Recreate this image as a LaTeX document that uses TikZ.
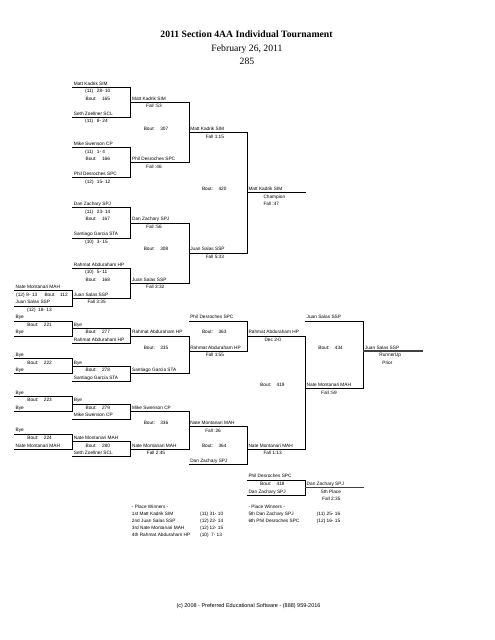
\documentclass[tikz,border=0pt]{standalone}
\usepackage{fontspec}
\setmainfont{Liberation Serif}
\newfontfamily\arialf{Liberation Sans}
\newcommand\colX[1]{(14.5+58.2*(#1))}
\newcommand\rowY[1]{(87.3+7.54*(#1))}
\tikzset{
  bline/.style={line width=0.9pt, line cap=rect, black},
  champ/.style={line width=1.1pt},
  final/.style={line width=1.5pt, black!75},
  lbl/.style={font=\arialf\fontsize{4.75}{5}\selectfont, anchor=base west, inner sep=0pt},
  foot/.style={font=\arialf\fontsize{5.5}{6}\selectfont, anchor=base, inner sep=0pt},
  ttl/.style={anchor=base, inner sep=0pt, font=\fontsize{9.7}{11}\selectfont},
}
% slot: [line style] name, column, row, label
\newcommand\Slot[5][]{%
  \coordinate (#2-l) at ({\colX{#3}},{\rowY{#4}});
  \coordinate (#2-r) at ({\colX{#3}+58.2},{\rowY{#4}});
  \draw[bline,#1] (#2-l) -- (#2-r);
  \node[lbl] (#2-t) at ({\colX{#3}+1},{\rowY{#4}-2.2}) {#5};}
% text under a line: name, column, row, x offset, text
\newcommand\Under[5]{\node[lbl] (#1) at ({\colX{#2}+#4},{\rowY{#3}+5.5}) {#5};}
\newcommand\UnderII[5]{\node[lbl] (#1) at ({\colX{#2}+#4},{\rowY{#3}+12.8}) {#5};}
% record: name, column, row, seed, record
\newcommand\Rec[5]{%
  \node[lbl] (#1-s) at ({\colX{#2}+12.3},{\rowY{#3}+5.5}) {#4};
  \node[lbl] (#1-w) at ({\colX{#2}+24},{\rowY{#3}+5.5}) {#5};}
% bout: name, column, row, number
\newcommand\Bout[4]{%
  \node[lbl] (#1-a) at ({\colX{#2}+12.7},{\rowY{#3}-2.2}) {Bout:};
  \node[lbl] (#1-b) at ({\colX{#2}+29.2},{\rowY{#3}-2.2}) {#4};}
\newcommand\Bracket[2]{\draw[bline] (#1-r) -- (#2-r);}
\begin{document}
\begin{tikzpicture}[x=1pt,y=-1pt]
\useasboundingbox[fill=white] (0,0) rectangle (495,640);

% title
\node[ttl,font=\bfseries\fontsize{9.7}{11}\selectfont] (title) at (246.5,37.5) {2011 Section 4AA Individual Tournament};
\node[ttl] (date) at (247,51.5) {February 26, 2011};
\node[ttl] (num) at (247,64.3) {285};

% ---------- championship bracket ----------
\Slot{mk1}{1}{0}{Matt Kadrik SIM} \Rec{mk1}{1}{0}{(11)}{28- 10}
\Slot{sz1}{1}{4}{Seth Zoellner SCL} \Rec{sz1}{1}{4}{(11)}{8- 24}
\Slot{ms1}{1}{8}{Mike Swenson CP} \Rec{ms1}{1}{8}{(11)}{1- 4}
\Slot{pd1}{1}{12}{Phil Desroches SPC} \Rec{pd1}{1}{12}{(12)}{15- 12}
\Slot{dz1}{1}{16}{Dan Zachary SPJ} \Rec{dz1}{1}{16}{(11)}{23- 14}
\Slot{sg1}{1}{20}{Santiago Garcia STA} \Rec{sg1}{1}{20}{(10)}{3- 15}
\Slot{ra1}{1}{24}{Rahmat Abduraham HP} \Rec{ra1}{1}{24}{(10)}{5- 11}
\Slot{js1}{1}{28}{Juan Salas SSP} \Under{js1f}{1}{28}{14.6}{Fall 3:35}
\Bracket{mk1}{sz1} \Bout{b165}{1}{2}{165}
\Bracket{ms1}{pd1} \Bout{b166}{1}{10}{166}
\Bracket{dz1}{sg1} \Bout{b167}{1}{18}{167}
\Bracket{ra1}{js1} \Bout{b168}{1}{26}{168}

\Slot{nm0}{0}{27}{Nate Montanari MAH}
\Under{nm0s}{0}{27}{1.5}{(12)} \Under{nm0w}{0}{27}{11.8}{8- 13}
\Under{b112a}{0}{27}{29.8}{Bout:} \Under{b112b}{0}{27}{45.5}{112}
\Slot{js0}{0}{29}{Juan Salas SSP}
\Under{js0s}{0}{29}{12.5}{(12)} \Under{js0w}{0}{29}{23.5}{18- 13}
\Bracket{nm0}{js0}

\Slot{mk2}{2}{2}{Matt Kadrik SIM} \Under{mk2f}{2}{2}{15}{Fall :53}
\Slot{pd2}{2}{10}{Phil Desroches SPC} \Under{pd2f}{2}{10}{15}{Fall :46}
\Slot{dz2}{2}{18}{Dan Zachary SPJ} \Under{dz2f}{2}{18}{15}{Fall :56}
\Slot{js2}{2}{26}{Juan Salas SSP} \Under{js2f}{2}{26}{15}{Fall 3:32}
\Bracket{mk2}{pd2} \Bout{b307}{2}{6}{307}
\Bracket{dz2}{js2} \Bout{b308}{2}{22}{308}

\Slot{mk3}{3}{6}{Matt Kadrik SIM} \Under{mk3f}{3}{6}{16.5}{Fall 1:15}
\Slot{js3}{3}{22}{Juan Salas SSP} \Under{js3f}{3}{22}{16.5}{Fall 5:33}
\Bracket{mk3}{js3} \Bout{b420}{3}{14}{420}

\Slot[champ]{mk4}{4}{14}{Matt Kadrik SIM}
\Under{mk4c}{4}{14}{16}{Champion} \UnderII{mk4f}{4}{14}{16}{Fall :47}

% ---------- consolation bracket ----------
\Slot{la1}{0}{31}{Bye} \Slot{la2}{0}{33}{Bye} \Bracket{la1}{la2} \Bout{b221}{0}{32}{221}
\Slot{la3}{0}{36}{Bye} \Slot{la4}{0}{38}{Bye} \Bracket{la3}{la4} \Bout{b222}{0}{37}{222}
\Slot{la5}{0}{41}{Bye} \Slot{la6}{0}{43}{Bye} \Bracket{la5}{la6} \Bout{b223}{0}{42}{223}
\Slot{la7}{0}{46}{Bye} \Slot{la8}{0}{48}{Nate Montanari MAH} \Bracket{la7}{la8} \Bout{b224}{0}{47}{224}

\Slot{lb1}{1}{32}{Bye} \Slot{lb2}{1}{34}{Rahmat Abduraham HP} \Bracket{lb1}{lb2} \Bout{b277}{1}{33}{277}
\Slot{lb3}{1}{37}{Bye} \Slot{lb4}{1}{39}{Santiago Garcia STA} \Bracket{lb3}{lb4} \Bout{b278}{1}{38}{278}
\Slot{lb5}{1}{42}{Bye} \Slot{lb6}{1}{44}{Mike Swenson CP} \Bracket{lb5}{lb6} \Bout{b279}{1}{43}{279}
\Slot{lb7}{1}{47}{Nate Montanari MAH} \Slot{lb8}{1}{49}{Seth Zoellner SCL} \Bracket{lb7}{lb8} \Bout{b280}{1}{48}{280}

\Slot{lc1}{2}{33}{Rahmat Abduraham HP} \Slot{lc2}{2}{38}{Santiago Garcia STA}
\Bracket{lc1}{lc2} \Bout{b335}{2}{35}{335}
\Slot{lc3}{2}{43}{Mike Swenson CP} \Slot{lc4}{2}{48}{Nate Montanari MAH} \Under{lc4f}{2}{48}{15.8}{Fall 2:45}
\Bracket{lc3}{lc4} \Bout{b336}{2}{45}{336}

\Slot{ld1}{3}{31}{Phil Desroches SPC} \Slot{ld2}{3}{35}{Rahmat Abduraham HP} \Under{ld2f}{3}{35}{16.5}{Fall 1:55}
\Bracket{ld1}{ld2} \Bout{b363}{3}{33}{363}
\Slot{ld3}{3}{45}{Nate Montanari MAH} \Under{ld3f}{3}{45}{16}{Fall :26}
\Slot{ld4}{3}{50}{Dan Zachary SPJ}
\Bracket{ld3}{ld4} \Bout{b364}{3}{48}{364}

\Slot{le1}{4}{33}{Rahmat Abduraham HP} \Under{le1f}{4}{33}{17}{Dec 2-0}
\Slot{le2}{4}{48}{Nate Montanari MAH} \Under{le2f}{4}{48}{16}{Fall 1:13}
\Bracket{le1}{le2} \Bout{b419}{4}{40}{419}

\Slot{lf1}{5}{31}{Juan Salas SSP}
\Slot{lf2}{5}{40}{Nate Montanari MAH} \Under{lf2f}{5}{40}{15.5}{Fall :59}
\Bracket{lf1}{lf2} \Bout{b434}{5}{35}{434}

\Slot[final]{lg1}{6}{35}{Juan Salas SSP}
\Under{lg1a}{6}{35}{15.5}{RunnerUp} \UnderII{lg1b}{6}{35}{18.5}{Prior}

% ---------- 5th place ----------
\Slot{fe1}{4}{52.1}{Phil Desroches SPC} \Slot{fe2}{4}{54.1}{Dan Zachary SPJ}
\Bracket{fe1}{fe2} \Bout{b418}{4}{53.1}{418}
\Slot[final]{ff1}{5}{53.1}{Dan Zachary SPJ}
\Under{ff1a}{5}{53.1}{15.5}{5th Place} \UnderII{ff1b}{5}{53.1}{16.5}{Fall 2:35}

% ---------- place winners ----------
\node[lbl] (pwl) at (131.7,508.4) {- Place Winners -};
\node[lbl] (p1) at (131.7,515.4) {1st Matt Kadrik SIM};
\node[lbl] (p1s) at (200,515.4) {(11)}; \node[lbl] (p1r) at (209.5,515.4) {31- 10};
\node[lbl] (p2) at (131.7,522.4) {2nd Juan Salas SSP};
\node[lbl] (p2s) at (200,522.4) {(12)}; \node[lbl] (p2r) at (209.5,522.4) {22- 14};
\node[lbl] (p3) at (131.7,529.4) {3rd Nate Montanari MAH};
\node[lbl] (p3s) at (200,529.4) {(12)}; \node[lbl] (p3r) at (209.5,529.4) {12- 15};
\node[lbl] (p4) at (131.7,536.4) {4th Rahmat Abduraham HP};
\node[lbl] (p4s) at (200,536.4) {(10)}; \node[lbl] (p4r) at (211,536.4) {7- 13};

\node[lbl] (pwr) at (248.3,508.4) {- Place Winners -};
\node[lbl] (p5) at (248.3,515.4) {5th Dan Zachary SPJ};
\node[lbl] (p5s) at (316.7,515.4) {(11)}; \node[lbl] (p5r) at (326.5,515.4) {25- 16};
\node[lbl] (p6) at (248.3,522.4) {6th Phil Desroches SPC};
\node[lbl] (p6s) at (316.7,522.4) {(12)}; \node[lbl] (p6r) at (326.5,522.4) {16- 15};

% footer
\node[foot] (footer) at (248.5,607.3) {(c) 2008 - Preferred Educational Software - (888) 959-2016};
\end{tikzpicture}
\end{document}
